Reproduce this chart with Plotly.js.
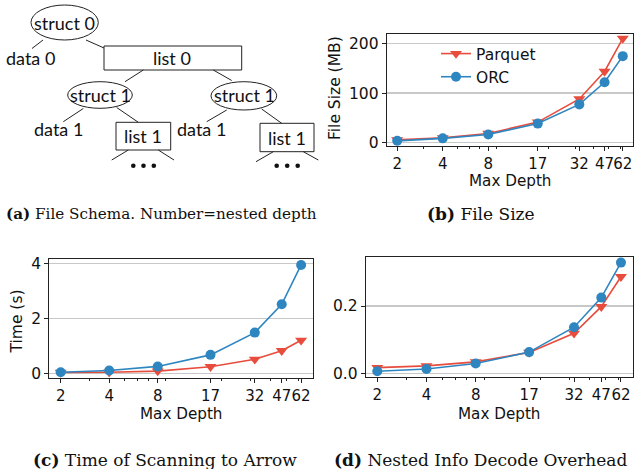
<!DOCTYPE html>
<html>
<head>
<meta charset="utf-8">
<script src="https://cdn.plot.ly/plotly-3.0.1.min.js"></script>
<style>html,body{margin:0;padding:0;background:#fff;}#chart{width:635px;height:469px;}</style>
</head>
<body>
<div id="chart"></div>
<script>
// ---- data ----
const depths = [2, 4, 8, 17, 32, 47, 62];
const tickLabels = ['2', '4', '8', '17', '32', '47', '62'];
const minorTicks = [3, 5, 6, 7, 9, 20, 30, 40, 50, 60];

const sizeParquet = [5, 9, 18, 41, 88, 144, 211];
const sizeOrc = [3, 8, 16, 38, 77, 122, 175];

const timeParquet = [0.03, 0.04, 0.08, 0.24, 0.51, 0.82, 1.2];
const timeOrc = [0.04, 0.1, 0.25, 0.67, 1.48, 2.51, 3.94];

const decodeParquet = [0.017, 0.022, 0.034, 0.062, 0.119, 0.198, 0.287];
const decodeOrc = [0.006, 0.013, 0.029, 0.063, 0.137, 0.225, 0.329];

const seriesNames = ['Parquet', 'ORC'];

// ---- styling ----
const W = 635, H = 469;
const px = x => x / W;
const py = y => 1 - y / H;
const RED = '#e74c3c', BLUE = '#2e86c1';
const SANS = 'DejaVu Sans, sans-serif';
const SERIF = 'DejaVu Serif, serif';
const DIAG = 'Lato, sans-serif';

function series(x, y, name, color, sym, xa, ya, showLegend) {
  return {
    x: x, y: y, name: name, type: 'scatter', mode: 'lines+markers',
    xaxis: xa, yaxis: ya, showlegend: showLegend,
    line: {color: color, width: 1.6},
    marker: {color: color, symbol: sym, size: sym === 'circle' ? 10 : 10.5}
  };
}

const traces = [
  series(depths, sizeParquet, seriesNames[0], RED, 'triangle-down', 'x', 'y', true),
  series(depths, sizeOrc, seriesNames[1], BLUE, 'circle', 'x', 'y', true),
  series(depths, timeParquet, seriesNames[0], RED, 'triangle-down', 'x2', 'y2', false),
  series(depths, timeOrc, seriesNames[1], BLUE, 'circle', 'x2', 'y2', false),
  series(depths, decodeParquet, seriesNames[0], RED, 'triangle-down', 'x3', 'y3', false),
  series(depths, decodeOrc, seriesNames[1], BLUE, 'circle', 'x3', 'y3', false)
];

function xAxis(domain, range, anchor) {
  return {
    domain: domain, range: range, type: 'log', anchor: anchor,
    tickmode: 'array', tickvals: depths, ticktext: tickLabels, tickangle: 0,
    ticks: 'outside', ticklen: 4, tickwidth: 1, tickcolor: '#222',
    showline: true, mirror: true, linecolor: '#222', linewidth: 1,
    showgrid: false, zeroline: false,
    tickfont: {family: SANS, size: 15, color: '#111'},
    minor: {tickmode: 'array', tickvals: minorTicks, ticks: 'outside', ticklen: 2, tickcolor: '#222', showgrid: false},
    fixedrange: true
  };
}
function yAxis(domain, range, anchor, tickvals, fmt) {
  return {
    domain: domain, range: range, anchor: anchor,
    tickmode: 'array', tickvals: tickvals, tickformat: fmt,
    ticks: 'outside', ticklen: 4, tickwidth: 1, tickcolor: '#222',
    showline: true, mirror: true, linecolor: '#222', linewidth: 1,
    showgrid: true, gridcolor: '#c8c8c8', gridwidth: 1.2, zeroline: false,
    tickfont: {family: SANS, size: 15.5, color: '#111'},
    fixedrange: true
  };
}

// ---- diagram (panel a) ----
const LC = '#222';
const shapes = [];
const annotations = [];
function ellipse(x0, y0, x1, y1) {
  shapes.push({type: 'circle', xref: 'paper', yref: 'paper', x0: px(x0), x1: px(x1), y0: py(y1), y1: py(y0), line: {color: LC, width: 1}});
}
function rect(x0, y0, x1, y1) {
  shapes.push({type: 'rect', xref: 'paper', yref: 'paper', x0: px(x0), x1: px(x1), y0: py(y1), y1: py(y0), line: {color: LC, width: 1}});
}
function seg(x0, y0, x1, y1) {
  shapes.push({type: 'line', xref: 'paper', yref: 'paper', x0: px(x0), x1: px(x1), y0: py(y0), y1: py(y1), line: {color: LC, width: 1}});
}
function dot(x, y) {
  const r = 2.3;
  shapes.push({type: 'circle', xref: 'paper', yref: 'paper', x0: px(x - r), x1: px(x + r), y0: py(y + r), y1: py(y - r), fillcolor: '#111', line: {width: 0}});
}
function label(text, x, y, size, family, anchor) {
  annotations.push({text: text, xref: 'paper', yref: 'paper', x: px(x), y: py(y), xanchor: anchor || 'center', yanchor: 'middle', showarrow: false, borderpad: 0, font: {family: family, size: size, color: '#111'}});
}
function vlabel(text, x, y, size) {
  annotations.push({text: text, xref: 'paper', yref: 'paper', x: px(x), y: py(y), xanchor: 'center', yanchor: 'middle', showarrow: false, borderpad: 0, textangle: -90, font: {family: SANS, size: size, color: '#111'}});
}

ellipse(31, 5, 98.3, 40);
label('struct 0', 64.7, 22.5, 18, DIAG);
seg(43, 40, 32, 48.5);
label('data 0', 30, 58, 18, DIAG);
seg(86, 40, 104, 48);
rect(104, 46, 241.7, 70);
label('list 0', 172, 57.5, 18, DIAG);
seg(143.3, 70, 125, 81.7);
seg(213.3, 70, 231.7, 80.5);

ellipse(67.7, 81.7, 132.3, 108.3);
label('struct 1', 100, 95, 18, DIAG);
ellipse(211, 81.7, 276.7, 110);
label('struct 1', 244, 95.5, 18, DIAG);

seg(83.3, 108.5, 63.3, 121.7);
label('data 1', 58.3, 128.5, 18, DIAG);
seg(116.7, 107.5, 138.3, 122.3);
rect(116, 122.3, 170.7, 150);
label('list 1', 143.3, 136.3, 18, DIAG);
seg(128.3, 150, 111.7, 160);
seg(158.3, 150, 174, 160);
dot(133.3, 165.7); dot(143.5, 165.7); dot(153.8, 165.7);

seg(226.7, 110, 206.7, 121.7);
label('data 1', 201.7, 128.5, 18, DIAG);
seg(261.7, 109, 281.7, 123.3);
rect(260, 123.3, 314, 151.7);
label('list 1', 287, 137.5, 18, DIAG);
seg(273.3, 151.7, 256, 161.7);
seg(303.3, 151.7, 318.3, 160);
dot(276.7, 165.7); dot(287.2, 165.7); dot(297.7, 165.7);

// ---- axis titles ----
label('Max Depth', 510, 181.5, 15.2, SANS);
label('Max Depth', 181.3, 414, 15.2, SANS);
label('Max Depth', 499.5, 414, 15.2, SANS);
vlabel('File Size (MB)', 335, 88, 15.5);
vlabel('Time (s)', 16.5, 322, 15.5);

// ---- captions ----
label('<b>(a)</b> File Schema. Number=nested depth', 161, 213.5, 15.2, SERIF);
label('<b>(b)</b> File Size', 481, 213.5, 17, SERIF);
label('<b>(c)</b> Time of Scanning to Arrow', 165, 460, 17, SERIF);
label('<b>(d)</b> Nested Info Decode Overhead', 480, 460, 17, SERIF);

const layout = {
  width: W, height: H,
  margin: {l: 0, r: 0, t: 0, b: 0, pad: 0},
  paper_bgcolor: '#fff', plot_bgcolor: '#fff',
  font: {family: SANS, size: 15.5, color: '#111'},
  xaxis: xAxis([px(386.7), px(633)], [0.2316, 1.86], 'y'),
  yaxis: yAxis([py(146), py(34)], [-7.5, 220], 'x', [0, 100, 200], 'd'),
  xaxis2: xAxis([px(49.3), px(313.3)], [0.2305, 1.868], 'y2'),
  yaxis2: yAxis([py(377.7), py(259.3)], [-0.16, 4.145], 'x2', [0, 2, 4], 'd'),
  xaxis3: xAxis([px(365.7), px(633.3)], [0.23, 1.868], 'y3'),
  yaxis3: yAxis([py(376.7), py(256.7)], [-0.0101, 0.3465], 'x3', [0, 0.2], '.1f'),
  showlegend: true,
  legend: {x: px(436), y: py(37), xanchor: 'left', yanchor: 'top', bgcolor: 'rgba(0,0,0,0)', borderwidth: 0,
           font: {family: SANS, size: 15.5, color: '#111'}, tracegroupgap: 0},
  shapes: shapes,
  annotations: annotations,
  hovermode: false
};

Plotly.newPlot('chart', traces, layout, {displayModeBar: false, staticPlot: true});
</script>
</body>
</html>
